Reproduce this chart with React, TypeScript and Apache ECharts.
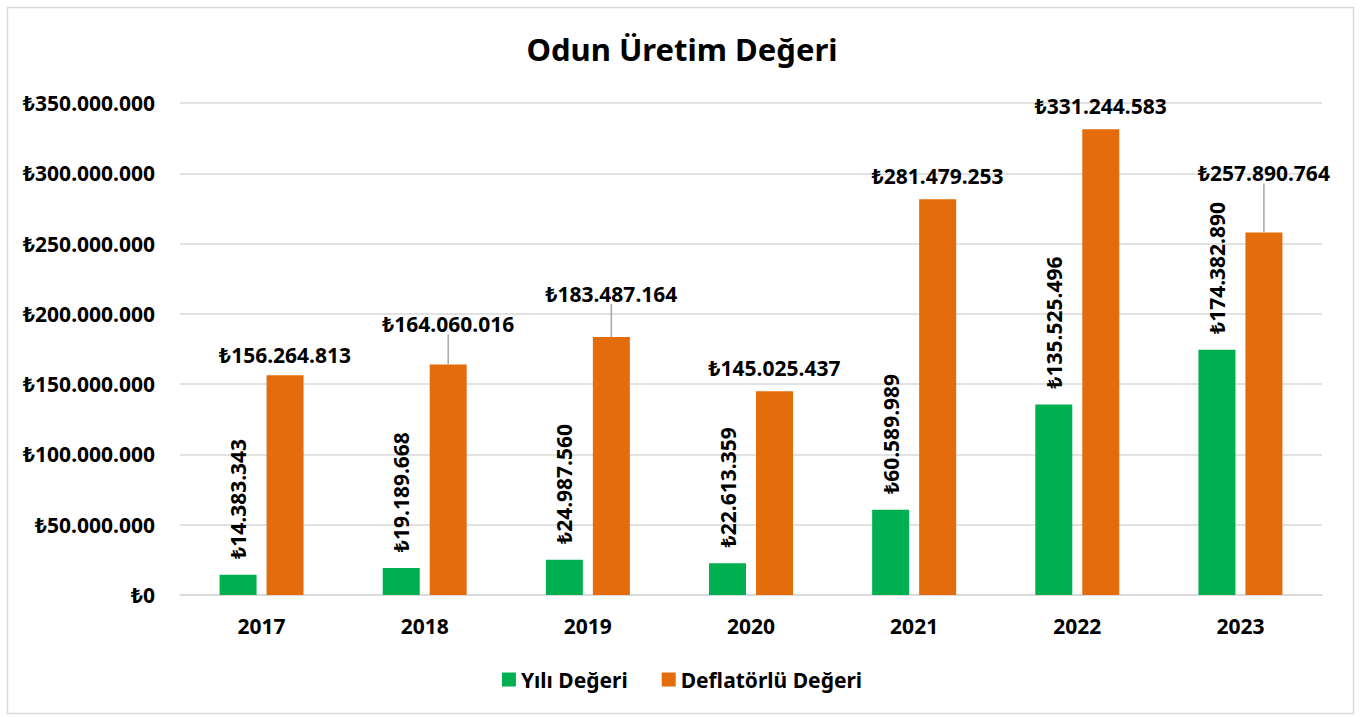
import React, { useEffect, useRef } from "react";
import * as echarts from "echarts";

const years = ["2017", "2018", "2019", "2020", "2021", "2022", "2023"];
const yiliDegeri = [14383343, 19189668, 24987560, 22613359, 60589989, 135525496, 174382890];
const deflatorluDegeri = [156264813, 164060016, 183487164, 145025437, 281479253, 331244583, 257890764];
const yTicks = { min: 0, max: 350000000, interval: 50000000 };

const FONT = "'Noto Sans', 'DejaVu Sans', sans-serif";
const GREEN = "#00b050";
const ORANGE = "#e46c0a";
const FS = 21;

const fmt = (v: number) => "₺" + String(Math.round(v)).replace(/\B(?=(\d{3})+(?!\d))/g, ".");

export default function App() {
  const ref = useRef<HTMLDivElement>(null);
  useEffect(() => {
    document.body.style.margin = "0";
    const chart = echarts.init(ref.current!, undefined, { renderer: "svg" });
    const labelShift = [3, -17, -20, 0, 0, 0, -36];
    chart.setOption({
      animation: false,
      backgroundColor: "#ffffff",
      textStyle: { fontFamily: FONT },
      graphic: [
        {
          type: "rect",
          left: 5,
          top: 5,
          shape: { width: 1346, height: 706 },
          style: { fill: "none", stroke: "#d9d9d9", lineWidth: 1.5 },
          silent: true,
        },
      ],
      title: {
        text: "Odun Üretim Değeri",
        left: "center",
        top: 28,
        textStyle: { fontFamily: FONT, fontSize: 31, fontWeight: "bold", color: "#000" },
      },
      legend: {
        bottom: 22,
        left: "center",
        icon: "rect",
        itemWidth: 14,
        itemHeight: 14,
        itemGap: 34,
        textStyle: { fontFamily: FONT, fontSize: FS, fontWeight: "bold", color: "#000" },
        data: ["Yılı Değeri", "Deflatörlü Değeri"],
      },
      grid: { left: 180, right: 42, top: 103, bottom: 122, containLabel: false },
      xAxis: {
        type: "category",
        data: years,
        axisTick: { show: false },
        axisLine: { lineStyle: { color: "#d9d9d9", width: 1.5 } },
        axisLabel: { margin: 20, fontFamily: FONT, fontSize: FS, fontWeight: "bold", color: "#000" },
      },
      yAxis: {
        type: "value",
        min: yTicks.min,
        max: yTicks.max,
        interval: yTicks.interval,
        axisLine: { show: false },
        axisTick: { show: false },
        splitLine: { lineStyle: { color: "#d9d9d9", width: 1.5 } },
        axisLabel: {
          margin: 25,
          fontFamily: FONT,
          fontSize: FS,
          fontWeight: "bold",
          color: "#000",
          formatter: (v: number) => fmt(v),
        },
      },
      series: [
        {
          name: "Yılı Değeri",
          type: "bar",
          barWidth: 37,
          barGap: "27%",
          itemStyle: { color: GREEN },
          data: yiliDegeri,
          label: {
            show: true,
            position: "top",
            distance: 16,
            rotate: 90,
            align: "left",
            verticalAlign: "middle",
            fontFamily: FONT,
            fontSize: FS,
            fontWeight: "bold",
            color: "#000",
            formatter: (p: any) => fmt(p.value),
          },
        },
        {
          name: "Deflatörlü Değeri",
          type: "bar",
          barWidth: 37,
          itemStyle: { color: ORANGE },
          data: deflatorluDegeri.map((v, i) => ({
            value: v,
            labelLine: { show: labelShift[i] < -5, lineStyle: { color: "#a6a6a6", width: 1.5 } },
          })),
          label: {
            show: true,
            position: "top",
            distance: 13,
            fontFamily: FONT,
            fontSize: FS,
            fontWeight: "bold",
            color: "#000",
            formatter: (p: any) => fmt(p.value),
          },
          labelLayout: (params: any) => ({ dy: labelShift[params.dataIndex] }),
        },
      ],
    });
    return () => chart.dispose();
  }, []);
  return <div ref={ref} style={{ width: 1364, height: 717 }} />;
}
